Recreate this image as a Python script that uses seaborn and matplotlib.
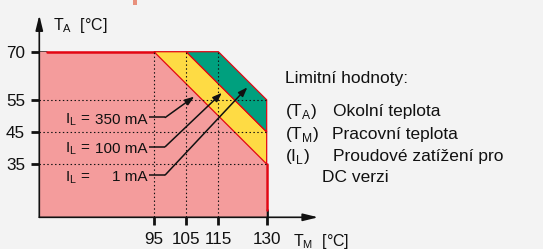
import matplotlib
matplotlib.use("Agg")
import matplotlib.pyplot as plt
import seaborn as sns
import pandas as pd
from matplotlib.patches import Polygon, Rectangle

# ---------------- data ----------------
x_ticks = [95, 105, 115, 130]          # T_M ticks
y_ticks = [35, 45, 55, 70]             # T_A ticks
currents = ["350 mA", "100 mA", "1 mA"]
knee_tm = [95, 105, 115]               # T_M where derating starts (T_A = 70)
end_ta = [35, 45, 55]                  # T_A at T_M = 130
ta_max = 70
tm_max = 130
arrow_tips_x = [107.5, 116.1, 124.0]
arrow_tips_y = [56.0, 57.2, 58.9]
label_y = [49.5, 40.4, 31.6]
legend_title = "Limitní hodnoty:"
legend_keys = [r"(T$_\mathregular{A}$)", r"(T$_\mathregular{M}$)", r"(I$_\mathregular{L}$)"]
legend_vals = ["Okolní teplota", "Pracovní teplota", "Proudové zatížení pro"]
legend_cont = "DC verzi"

# ---------------- style ----------------
sns.set_style("white")
plt.rcParams["font.family"] = ["Liberation Sans", "DejaVu Sans"]
BG = "#f3f3f3"
RED = "#e30613"
PINK = "#f49c9c"
YELLOW = "#fedb44"
GREEN = "#00a07e"
INK = "#111111"

W, H = 543, 249
fig = plt.figure(figsize=(W / 100, H / 100), dpi=100, facecolor=BG)
x0, x1 = 59.4, 146.0
y0, y1 = 18.4, 82.0
ax = fig.add_axes([39.3 / W, (H - 217.3) / H, (318.2 - 39.3) / W, (217.3 - 13.2) / H])
ax.set_xlim(x0, x1)
ax.set_ylim(y0, y1)
ax.set_facecolor("none")
for s in ax.spines.values():
    s.set_visible(False)

# regions
pink = [(x0, y0), (x0, ta_max), (knee_tm[0], ta_max), (tm_max, end_ta[0]), (tm_max, y0)]
ax.add_patch(Polygon(pink, closed=True, fc=PINK, ec="none", zorder=1))
yellow = [(knee_tm[0], ta_max), (knee_tm[1], ta_max), (tm_max, end_ta[1]), (tm_max, end_ta[0])]
ax.add_patch(Polygon(yellow, closed=True, fc=YELLOW, ec=RED, lw=0.9, zorder=1.2))
green = [(knee_tm[1], ta_max), (knee_tm[2], ta_max), (tm_max, end_ta[2]), (tm_max, end_ta[1])]
ax.add_patch(Polygon(green, closed=True, fc=GREEN, ec=RED, lw=0.9, zorder=1.2))

# thick red boundary of pink area
top = pd.DataFrame({"x": [61.8, knee_tm[0]], "y": [ta_max, ta_max]})
sns.lineplot(data=top, x="x", y="y", color=RED, lw=1.8, ax=ax, sort=False,
             estimator=None, zorder=2)
right = pd.DataFrame({"x": [tm_max, tm_max], "y": [end_ta[0], 20.7]})
sns.lineplot(data=right, x="x", y="y", color=RED, lw=1.8, ax=ax, sort=False,
             estimator=None, zorder=2)
ax.set_xlabel("")
ax.set_ylabel("")

# dotted guide lines
ax.vlines(knee_tm, y0, ta_max, colors=INK, lw=0.8, linestyles=(0, (1.3, 2.2)), zorder=2.2)
ax.hlines(end_ta, x0, tm_max, colors=INK, lw=0.8, linestyles=(0, (1.3, 2.2)), zorder=2.2)

# axes with arrows
ax.annotate("", xy=(x0, 81.4), xytext=(x0, y0),
            arrowprops=dict(arrowstyle="-|>,head_length=0.9,head_width=0.22",
                            lw=1.2, color=INK, shrinkA=0, shrinkB=0),
            annotation_clip=False)
ax.annotate("", xy=(146.0, y0), xytext=(x0, y0),
            arrowprops=dict(arrowstyle="-|>,head_length=0.9,head_width=0.22",
                            lw=1.2, color=INK, shrinkA=0, shrinkB=0),
            annotation_clip=False)

# ticks
ax.set_xticks(x_ticks, labels=[str(v) for v in x_ticks])
ax.set_yticks(y_ticks, labels=[str(v) for v in y_ticks])
ax.tick_params(axis="both", which="major", bottom=True, left=True, top=False, right=False,
               direction="inout", length=11.5, width=2.0, color=INK,
               labelsize=12.3, labelcolor=INK)
ax.tick_params(axis="x", pad=5.0)
ax.tick_params(axis="y", pad=4.5)
for lbl in ax.get_xticklabels() + ax.get_yticklabels():
    lbl.set_fontfamily(["Liberation Sans Narrow", "Liberation Sans"])
ax.grid(False)

# axis labels
ax.text(63.6, 76.8, r"T$_\mathregular{A}$  [°C]", fontsize=11.5, va="baseline", color=INK)
ax.text(138.3, 9.6, r"T$_\mathregular{M}$  [°C]", fontsize=11.5, va="baseline",
        color=INK, clip_on=False)

# current labels with arrows
for cur, ly, tx, ty in zip(currents, label_y, arrow_tips_x, arrow_tips_y):
    base = ly - 1.9
    ax.text(67.36, base, r"I$_\mathregular{L}$ =", fontsize=11, va="baseline", color=INK)
    ax.text(93.14, base, cur, fontsize=11, va="baseline", ha="right", color=INK)
    ax.plot([93.6, 98.5], [ly, ly], color=INK, lw=1.1, zorder=3, solid_capstyle="butt")
    ax.annotate("", xy=(tx, ty), xytext=(98.5, ly),
                arrowprops=dict(arrowstyle="-|>,head_length=0.55,head_width=0.2",
                                lw=1.1, color=INK, shrinkA=0, shrinkB=0), zorder=3)

# legend text
def ftxt(px, py, s, **kw):
    fig.text(px / W, 1 - py / H, s, fontsize=12.5, va="baseline", color=INK, **kw)

ftxt(285, 83.3, legend_title)
rows_y = [115.7, 139.3, 161.0]
vals_x = [333.3, 331.7, 333.3]
for k, v, yy, vx in zip(legend_keys, legend_vals, rows_y, vals_x):
    ftxt(285, yy, k)
    ftxt(vx, yy, v)
ftxt(321.7, 181.7, legend_cont)

# small cropped mark at the top
fig.add_artist(Rectangle((133 / W, 1 - 5 / H), 4 / W, 5 / H, transform=fig.transFigure,
                         fc="#e8907c", ec="none"))

fig.savefig("out.png", dpi=100, facecolor=BG)
